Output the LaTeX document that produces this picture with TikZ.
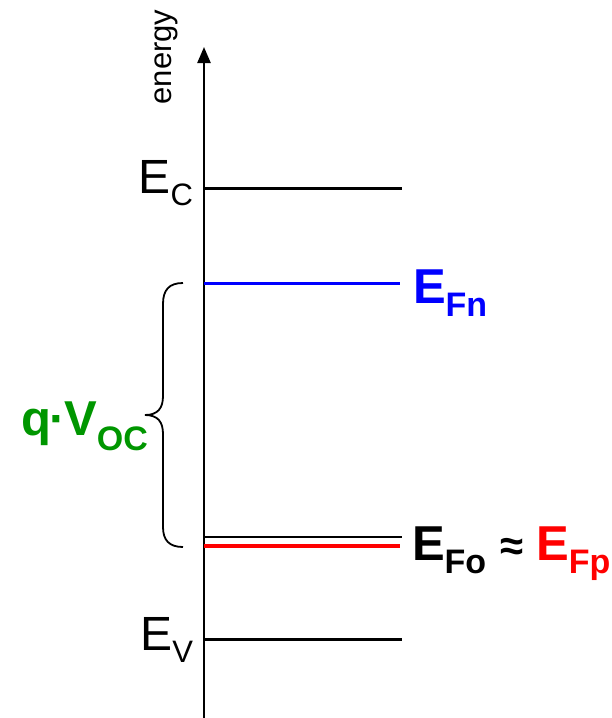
\documentclass[tikz,border=0pt]{standalone}
\usepackage{fontspec}
\setmainfont{Liberation Sans}
\usetikzlibrary{arrows.meta}
\definecolor{myblue}{RGB}{0,0,255}
\definecolor{myred}{RGB}{255,0,0}
\definecolor{mygreen}{RGB}{0,150,0}
\tikzset{
  level/.style={line width=3pt},
  lab/.style={inner sep=0pt, outer sep=0pt},
  big/.style={font=\fontsize{48}{50}\selectfont},
  bigb/.style={font=\fontsize{49}{50}\selectfont\bfseries},
}
\newcommand{\subtxt}[1]{\raisebox{-12pt}{\fontsize{31}{32}\selectfont #1}}
\newcommand{\bsubtxt}[1]{\raisebox{-13pt}{\fontsize{34}{34}\selectfont\bfseries #1}}
\begin{document}
\begin{tikzpicture}[x=1pt,y=-1pt]
\useasboundingbox (0,0) rectangle (612,718);
% axis
\coordinate (axb) at (204,718);
\coordinate (axt) at (204,47);
\draw[line width=2.4pt,-{Triangle[length=16pt,width=13pt]}] (axb) -- (axt);
\node[lab,rotate=90,font=\fontsize{31}{32}\selectfont] (energy) at (166,57) {energy};
% levels
\draw[level] (204,188) coordinate (ec0) -- (402,188) coordinate (ec1);
\draw[level,myblue] (204,283) coordinate (efn0) -- (400,283) coordinate (efn1);
\draw[line width=2pt] (204,537) coordinate (efo0) -- (402,537) coordinate (efo1);
\draw[line width=3.8pt,myred] (204,546) coordinate (efp0) -- (400,546) coordinate (efp1);
\draw[level] (204,639) coordinate (ev0) -- (402,639) coordinate (ev1);
% labels
\node[lab,big,anchor=base east] (EC) at (193,193) {E\subtxt{C}};
\node[lab,big,anchor=base east] (EV) at (193,650) {E\subtxt{V}};
\node[lab,anchor=base west,text=myblue,bigb] (EFn) at (413,303) {E\bsubtxt{Fn}};
\node[lab,anchor=base west,bigb] (EFo) at (412,560) {E\bsubtxt{Fo}\hspace{14pt}{\fontsize{42}{42}\selectfont ≈}\hspace{13pt}\textcolor{myred}{E\bsubtxt{Fp}}};
% brace
\draw[line width=1.8pt] (183,283) .. controls (169,283) and (163,290) .. (163,304) -- (163,396) .. controls (163,408) and (158,415) .. (145,415) .. controls (158,415) and (163,422) .. (163,434) -- (163,527) .. controls (163,540) and (169,547) .. (183,547);
\node[lab,anchor=base east,text=mygreen,bigb] (qV) at (148,435) {q\kern-1.5pt·\kern-1.5pt V\raisebox{-15pt}{\fontsize{34}{34}\selectfont\bfseries OC}};
\end{tikzpicture}
\end{document}
